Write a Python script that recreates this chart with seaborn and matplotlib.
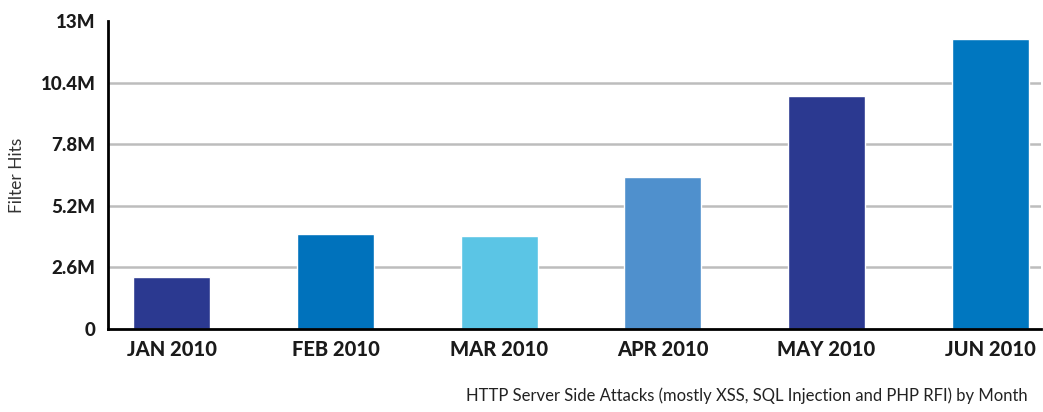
import matplotlib
matplotlib.use("Agg")
import matplotlib.pyplot as plt
import seaborn as sns
import pandas as pd

months = ["JAN 2010", "FEB 2010", "MAR 2010", "APR 2010", "MAY 2010", "JUN 2010"]
hits = [2.18e6, 4.01e6, 3.91e6, 6.41e6, 9.83e6, 12.23e6]
bar_colors = ["#2B3990", "#0072BC", "#5BC5E5", "#4F90CD", "#2B3990", "#0077C0"]
ytick_vals = [0, 2.6e6, 5.2e6, 7.8e6, 10.4e6, 13e6]
ytick_labels = ["0", "2.6M", "5.2M", "7.8M", "10.4M", "13M"]
ylabel = "Filter Hits"
caption = "HTTP Server Side Attacks (mostly XSS, SQL Injection and PHP RFI) by Month"

sns.set_theme(style="white")
plt.rcParams['font.family'] = ['Lato', 'DejaVu Sans']

df = pd.DataFrame({"month": months, "hits": hits})

W, H = 1043, 412
fig = plt.figure(figsize=(W / 100, H / 100), dpi=100)
ax = fig.add_axes([108 / W, (H - 329) / H, (1041 - 108) / W, (329 - 21) / H])

sns.barplot(data=df, x="month", y="hits", hue="month", palette=bar_colors,
            width=0.47, legend=False, ax=ax, saturation=1)

ax.set_xlim(-0.39, 5.31)
ax.set_ylim(0, 13e6)
ax.set_yticks(ytick_vals)
ax.set_yticklabels(ytick_labels, fontsize=13.5, fontweight="black", color="#1a1a1a")
ax.set_xticks(range(len(months)))
ax.set_xticklabels(months, fontsize=14.5, fontweight="black", color="#1a1a1a")
ax.tick_params(axis="both", length=0, pad=9)
ax.tick_params(axis="x", pad=8)

ax.yaxis.grid(True, color="#BDBDBD", linewidth=1.8)
ax.set_axisbelow(True)
gl = ax.get_ygridlines()
gl[0].set_visible(False)
gl[-1].set_visible(False)

for s in ["top", "right"]:
    ax.spines[s].set_visible(False)
for s in ["left", "bottom"]:
    ax.spines[s].set_visible(True)
    ax.spines[s].set_color("black")
    ax.spines[s].set_linewidth(2)

ax.set_xlabel("")
ax.set_ylabel("")
fig.text(17 / W, 1 - 175 / H, ylabel, rotation=90, ha="center", va="center",
         fontsize=12.5, color="#333333")
fig.text(1028 / W, 1 - 396 / H, caption, ha="right", va="center",
         fontsize=12, color="#222222")

fig.savefig("out.png", dpi=100)
